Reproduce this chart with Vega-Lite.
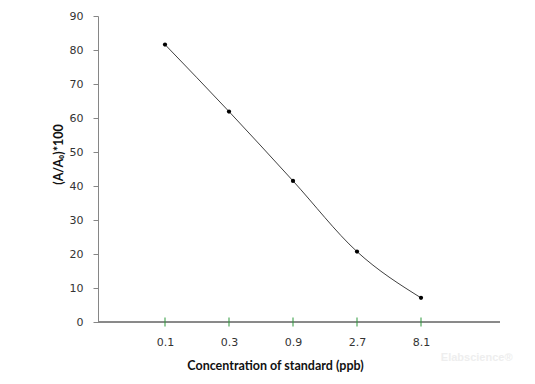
{
  "$schema": "https://vega.github.io/schema/vega-lite/v6.json",
  "width": 402,
  "height": 306,
  "autosize": "none",
  "padding": {"left": 98, "top": 16, "right": 35, "bottom": 62},
  "background": "white",
  "config": {"view": {"stroke": null}},
  "title": {"text": "Elabscience®", "orient": "bottom", "anchor": "end", "color": "#eeeeee", "fontSize": 11, "font": "Liberation Sans", "fontWeight": "bold", "offset": 4, "dx": 12, "dy": -24},
  "data": {"values": [
    {"conc": "0.1", "value": 81.6},
    {"conc": "0.3", "value": 61.9},
    {"conc": "0.9", "value": 41.5},
    {"conc": "2.7", "value": 20.7},
    {"conc": "8.1", "value": 7.1}
  ]},
  "encoding": {
    "x": {
      "field": "conc", "type": "ordinal", "sort": null,
      "scale": {"type": "point", "domain": ["0.1", "0.3", "0.9", "2.7", "8.1"], "padding": 0, "range": [67, 323]},
      "axis": {
        "title": "Concentration of standard  (ppb)",
        "labelAngle": 0, "ticks": false, "labelPadding": 14, "domain": false,
        "labelFont": "DejaVu Sans", "labelFontSize": 11, "labelColor": "#333333",
        "titleFont": "Lato", "titleFontSize": 12.5, "titleFontWeight": "bold", "titleColor": "#111111",
        "titleX": 177, "titleY": 43, "titleBaseline": "middle", "titleAlign": "center"
      }
    },
    "y": {
      "field": "value", "type": "quantitative",
      "scale": {"domain": [0, 90], "nice": false},
      "axis": {
        "title": "(A/A₀)*100",
        "values": [0, 10, 20, 30, 40, 50, 60, 70, 80, 90],
        "grid": false, "tickSize": 5, "tickColor": "#868686", "domainColor": "#868686",
        "labelPadding": 10, "labelFont": "DejaVu Sans", "labelFontSize": 11, "labelColor": "#333333",
        "titleFont": "Lato", "titleFontSize": 12.5, "titleFontWeight": "bold", "titleColor": "#111111",
        "titleX": -40, "titleY": 138, "titleBaseline": "middle", "titleAlign": "center", "titleAngle": -90
      }
    }
  },
  "layer": [
    {"mark": {"type": "rule", "color": "#868686", "strokeWidth": 1},
     "encoding": {"x": null, "y": {"datum": 0}}},
    {"mark": {"type": "tick", "orient": "vertical", "size": 9, "color": "#2e9a3c", "thickness": 1, "opacity": 1},
     "encoding": {"y": {"datum": 0}}},
    {"mark": {"type": "line", "interpolate": "monotone", "color": "#404040", "strokeWidth": 1}},
    {"mark": {"type": "circle", "size": 18, "color": "#000000", "opacity": 1}}
  ]
}
